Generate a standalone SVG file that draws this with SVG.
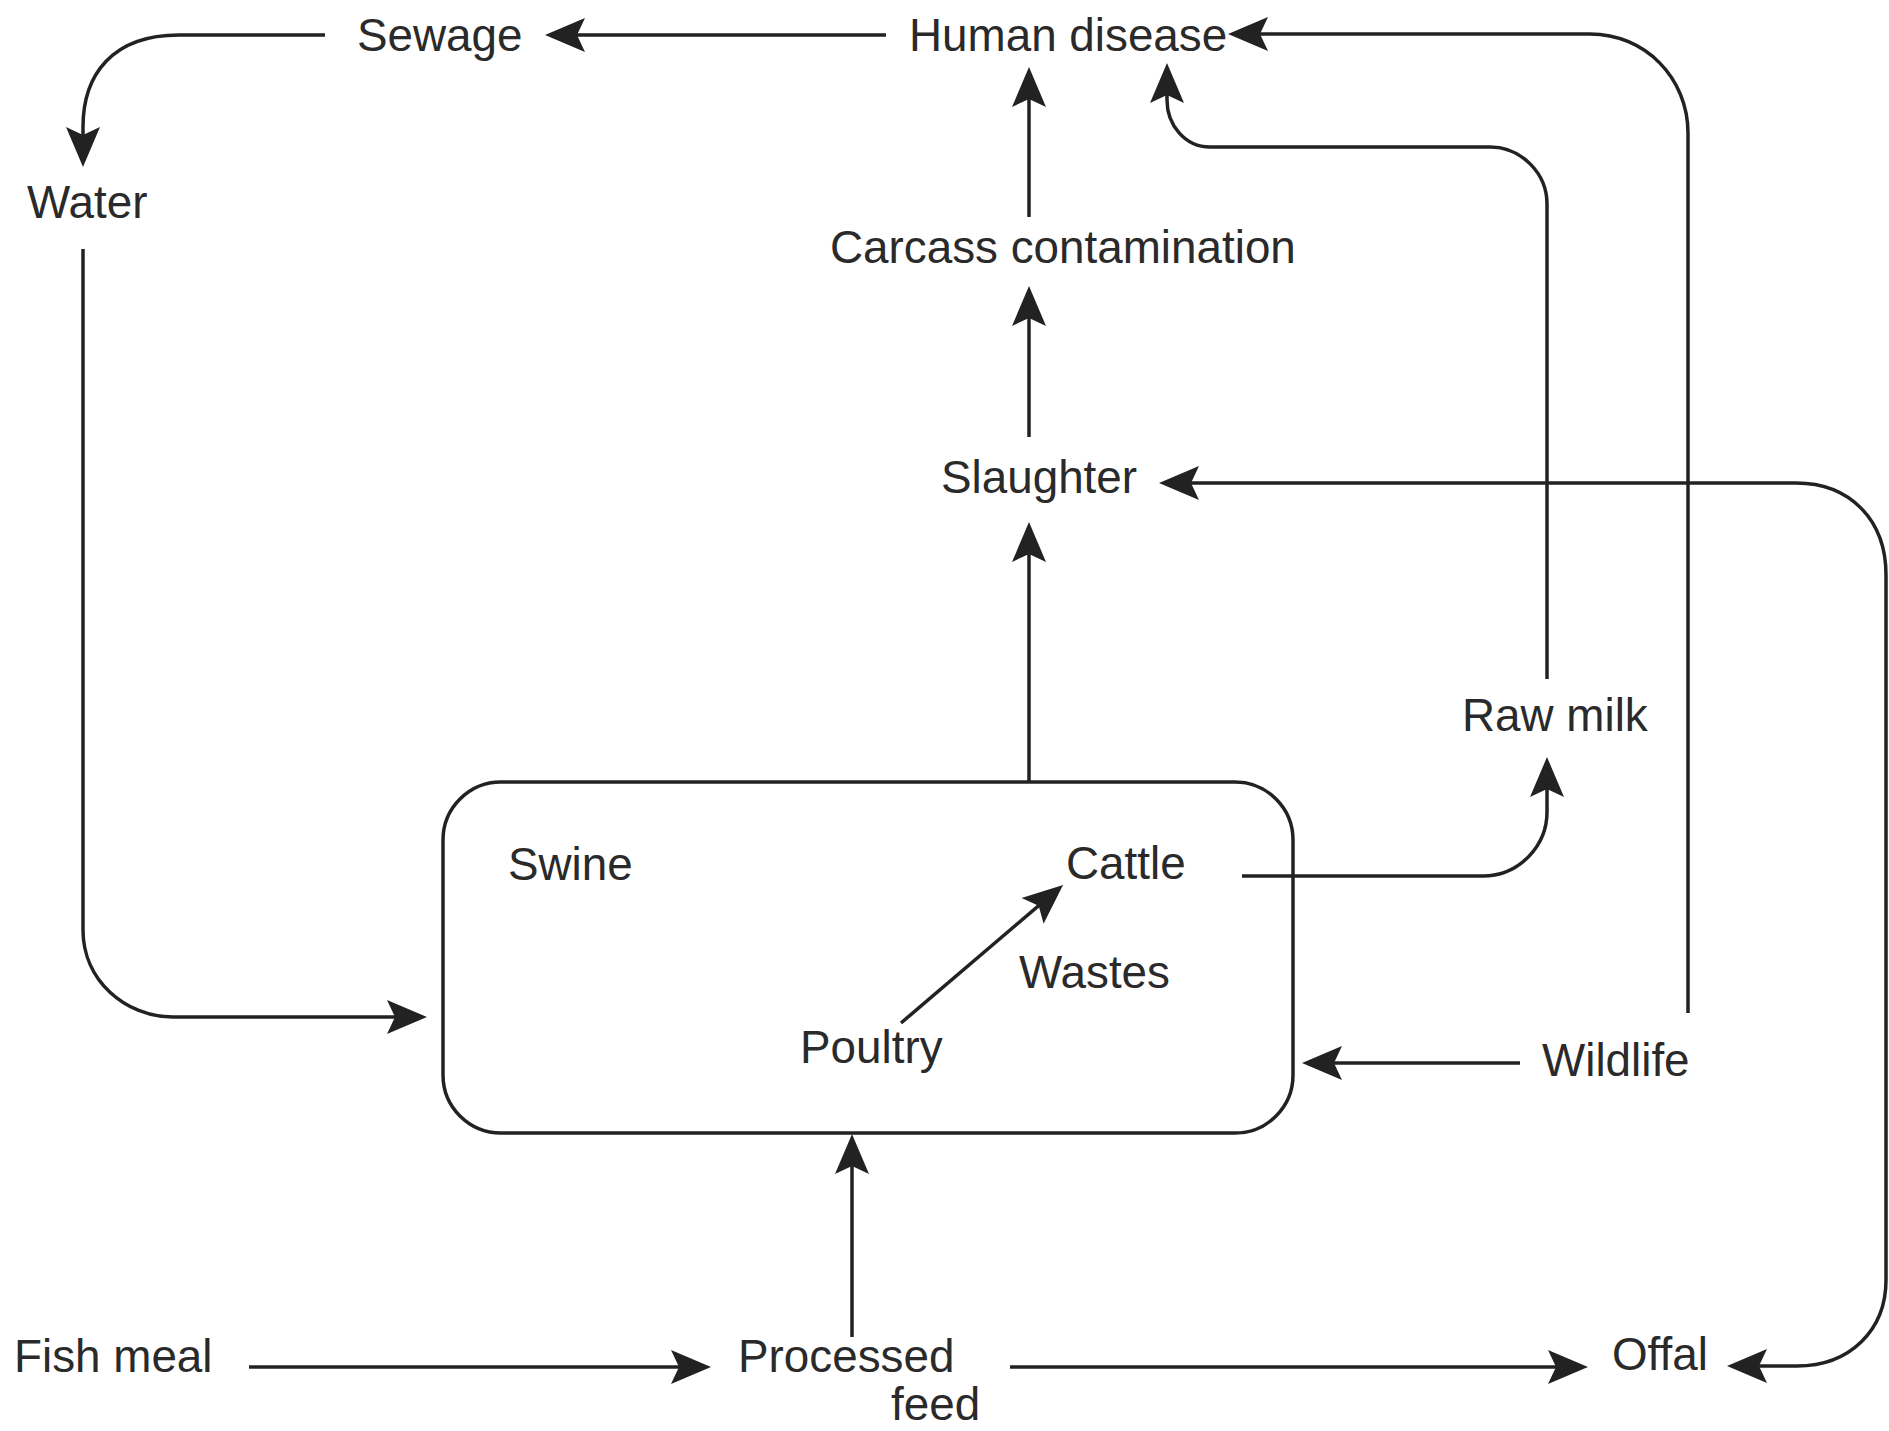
<svg xmlns="http://www.w3.org/2000/svg" width="1889" height="1431" viewBox="0 0 1889 1431">
<style>
.lbl{font-family:"Liberation Sans",Arial,Helvetica,sans-serif;font-size:45.8px;fill:#2a2a2a}
.edge{fill:none;stroke:#222;stroke-width:3.5}
.box{fill:none;stroke:#222;stroke-width:3.5}
</style>
<defs>
<marker id="ah" markerUnits="userSpaceOnUse" viewBox="-44 -20 46 40" refX="-30" refY="0" markerWidth="46" markerHeight="40" orient="auto-start-reverse" overflow="visible">
<path d="M0,0 L-40,-17 L-32,0 L-40,17 Z" fill="#222"/>
</marker>
</defs>
<rect width="1889" height="1431" fill="#fff"/>
<g id="farm">
<rect class="box" x="443" y="782" width="850" height="351" rx="58" ry="58"/>
</g>
<g id="connectors">
<path class="edge" d="M886,35 H575" marker-end="url(#ah)"/>
<path class="edge" d="M325,35 H179 C112,35 83,75 83,127 V137" marker-end="url(#ah)"/>
<path class="edge" d="M83,249 V930 C83,980 125,1017 173,1017 H397" marker-end="url(#ah)"/>
<path class="edge" d="M1029,782 V552" marker-end="url(#ah)"/>
<path class="edge" d="M1029,437 V316" marker-end="url(#ah)"/>
<path class="edge" d="M1029,217 V97" marker-end="url(#ah)"/>
<path class="edge" d="M1547,679 V204 C1547,173 1521,147 1490,147 H1210 C1185,147 1167,125 1167,100 V93" marker-end="url(#ah)"/>
<path class="edge" d="M1688,1013 V133 C1688,78 1645,34 1590,34 H1258" marker-end="url(#ah)"/>
<path class="edge" d="M1757,1366 H1797 C1850,1366 1886,1330 1886,1280 V575 C1886,520 1850,483 1796,483 H1189" marker-start="url(#ah)" marker-end="url(#ah)"/>
<path class="edge" d="M1242,876 H1483 C1520,876 1547,845 1547,812 V787" marker-end="url(#ah)"/>
<path class="edge" d="M901,1023 L1040.2,904.4" marker-end="url(#ah)"/>
<path class="edge" d="M1520,1063 H1332" marker-end="url(#ah)"/>
<path class="edge" d="M852,1337 V1164" marker-end="url(#ah)"/>
<path class="edge" d="M249,1367 H681" marker-end="url(#ah)"/>
<path class="edge" d="M1010,1367 H1558" marker-end="url(#ah)"/>
</g>
<g id="sewage"><text class="lbl" x="357" y="51">Sewage</text></g>
<g id="human-disease"><text class="lbl" x="909" y="51">Human disease</text></g>
<g id="water"><text class="lbl" x="27" y="218">Water</text></g>
<g id="carcass"><text class="lbl" x="830" y="263">Carcass contamination</text></g>
<g id="slaughter"><text class="lbl" x="941" y="493">Slaughter</text></g>
<g id="raw-milk"><text class="lbl" x="1462" y="731">Raw milk</text></g>
<g id="swine"><text class="lbl" x="508" y="880">Swine</text></g>
<g id="cattle"><text class="lbl" x="1066" y="879">Cattle</text></g>
<g id="wastes"><text class="lbl" x="1019" y="988">Wastes</text></g>
<g id="poultry"><text class="lbl" x="800" y="1063">Poultry</text></g>
<g id="wildlife"><text class="lbl" x="1542" y="1076">Wildlife</text></g>
<g id="fish-meal"><text class="lbl" x="14" y="1372">Fish meal</text></g>
<g id="processed-feed"><text class="lbl" x="738" y="1372">Processed</text><text class="lbl" x="891" y="1420">feed</text></g>
<g id="offal"><text class="lbl" x="1612" y="1370">Offal</text></g>
</svg>
